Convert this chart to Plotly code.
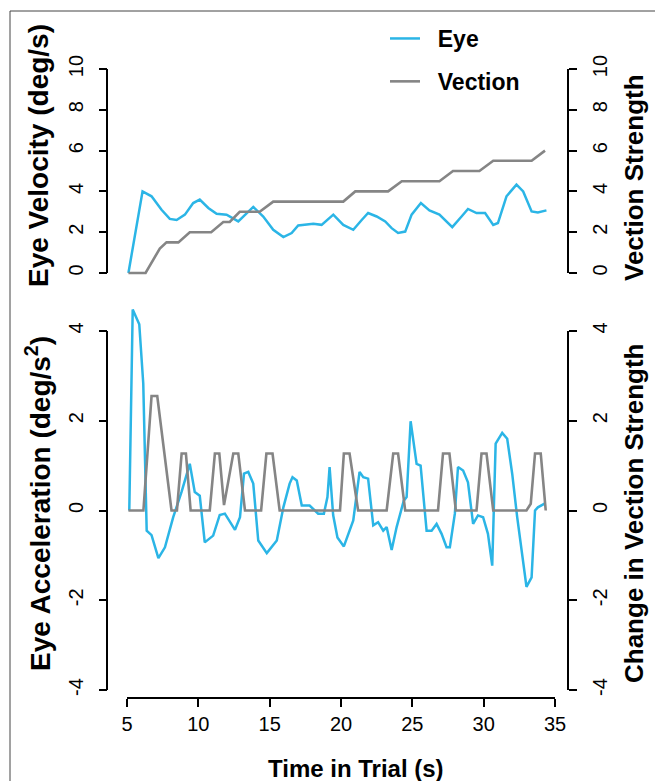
import plotly.graph_objects as go

# ---- data ----
t_vel = [5.1, 6.09, 6.72, 7.42, 8.0, 8.48, 9.06, 9.64, 10.1, 10.7, 11.28, 11.98, 12.8, 13.4, 13.85,
         14.55, 15.25, 15.96, 16.54, 17.0, 17.6, 18.06, 18.64, 19.46, 20.16, 20.86, 21.45, 21.9,
         22.5, 23.1, 23.55, 24.0, 24.5, 24.95, 25.6, 26.2, 26.9, 27.8, 28.45, 28.9, 29.5, 30.1,
         30.67, 31.0, 31.6, 32.3, 32.77, 33.36, 33.8, 34.4]
eye_vel = [0, 4.0, 3.76, 3.1, 2.65, 2.6, 2.86, 3.43, 3.6, 3.19, 2.9, 2.86, 2.53, 2.94, 3.24,
           2.77, 2.12, 1.76, 1.96, 2.33, 2.36, 2.41, 2.36, 2.86, 2.36, 2.12, 2.6, 2.94,
           2.77, 2.53, 2.2, 1.96, 2.03, 2.86, 3.43, 3.07, 2.86, 2.25, 2.77, 3.14, 2.94, 2.94,
           2.36, 2.45, 3.76, 4.33, 4.0, 3.02, 2.97, 3.07]

t_vs = [5.1, 6.3, 7.3, 7.77, 8.6, 9.4, 10.9, 11.75, 12.2, 12.9, 14.3, 15.25, 20.16, 21.0,
        23.3, 24.26, 26.9, 27.85, 29.7, 30.67, 33.36, 34.3]
vection = [0, 0, 1.2, 1.5, 1.5, 2.0, 2.0, 2.5, 2.5, 3.0, 3.0, 3.5, 3.5, 4.0,
           4.0, 4.5, 4.5, 5.0, 5.0, 5.5, 5.5, 6.0]

t_acc = [5.16, 5.4, 5.86, 6.14, 6.38, 6.72, 7.2, 7.66, 8.24, 8.83, 9.4, 9.75, 10.1, 10.45,
         11.04, 11.5, 11.86, 12.57, 12.92, 13.2, 13.5, 13.85, 14.2, 14.8, 15.5, 15.96, 16.4,
         16.6, 16.9, 17.25, 17.8, 18.4, 18.8, 19.05, 19.2, 19.45, 19.75, 20.2, 20.86, 21.3,
         21.56, 21.9, 22.26, 22.6, 22.96, 23.2, 23.55, 23.9, 24.4, 24.6, 24.88, 25.3, 25.58,
         26.0, 26.35, 26.7, 27.05, 27.4, 27.63, 27.98, 28.2, 28.56, 28.9, 29.26, 29.6, 29.96,
         30.3, 30.6, 30.84, 31.3, 31.65, 32.0, 32.35, 33.0, 33.36, 33.6, 33.8, 34.3]
eye_acc = [0, 4.48, 4.15, 2.83, -0.45, -0.55, -1.06, -0.82, -0.15, 0.42, 1.04, 0.41, 0.33, -0.71,
           -0.56, -0.1, -0.07, -0.43, -0.15, 0.82, 0.86, 0.6, -0.67, -0.95, -0.67, 0.07, 0.6,
           0.74, 0.67, 0.11, 0.11, -0.07, -0.07, 0.3, 0.97, -0.1, -0.6, -0.8, -0.22, 0.86,
           0.74, 0.71, -0.33, -0.26, -0.45, -0.37, -0.88, -0.37, 0.22, 0.3, 1.99, 1.04, 1.0,
           -0.45, -0.45, -0.3, -0.52, -0.82, -0.82, -0.07, 0.97, 0.89, 0.63, -0.3, -0.11, -0.15,
           -0.52, -1.23, 1.49, 1.73, 1.6, 0.82, -0.15, -1.7, -1.49, 0.0, 0.07, 0.16]

t_dv = [5.1, 6.15, 6.72, 7.12, 8.12, 8.5, 8.83, 9.13, 9.46, 10.8, 11.16, 11.47, 11.8, 12.45,
        12.8, 13.27, 14.4, 14.77, 15.2, 15.7, 19.93, 20.2, 20.6, 21.2, 23.2, 23.66, 24.0, 24.5,
        26.8, 27.15, 27.6, 28.05, 29.5, 29.85, 30.2, 30.67, 33.0, 33.3, 33.6, 34.0, 34.35]
d_vection = [0, 0, 2.55, 2.55, 0, 0, 1.27, 1.27, 0, 0, 1.27, 1.27, 0.12, 1.27,
             1.27, 0, 0, 1.27, 1.27, 0, 0, 1.27, 1.27, 0, 0, 1.27, 1.27, 0,
             0, 1.27, 1.27, 0, 0, 1.27, 1.27, 0, 0, 0.15, 1.27, 1.27, 0]

x_ticks = [5, 10, 15, 20, 25, 30, 35]
vel_ticks = [0, 2, 4, 6, 8, 10]
acc_ticks = [-4, -2, 0, 2, 4]
acc_ticktext = ["-4", "-2", "0", "2", "4"]

BLUE = "#2BB5E6"
GRAY = "#858585"
W, H = 655, 781
FONT = "Liberation Sans, Arial, sans-serif"


def px_x(p):
    return p / W


def px_y(p):
    return 1 - p / H


# pixel geometry
LEFT_AX, RIGHT_AX = 107.0, 568.0
X5, X35 = 127.0, 555.0
X_AX_Y = 698.0
TOP_0, TOP_10 = 273.0, 69.0
BOT_M4, BOT_4 = 690.0, 331.0

vel_scale = (TOP_0 - TOP_10) / 10.0
TOP_LO, TOP_HI = TOP_0 + 4, TOP_10 - 4
vel_range = [-(TOP_LO - TOP_0) / vel_scale, 10 + (TOP_10 - TOP_HI) / vel_scale]

acc_scale = (BOT_M4 - BOT_4) / 8.0
BOT_LO, BOT_HI = BOT_M4 + 4, 296.0
acc_range = [-4 - (BOT_LO - BOT_M4) / acc_scale, 4 + (BOT_4 - BOT_HI) / acc_scale]

fig = go.Figure()

# gray first so blue sits on top
fig.add_trace(go.Scatter(x=t_vs, y=vection, mode="lines", name="\u00a0\u00a0Vection",
                         xaxis="x", yaxis="y2",
                         line=dict(color=GRAY, width=2.6), legendgroup="v", legendrank=2))
fig.add_trace(go.Scatter(x=t_dv, y=d_vection, mode="lines", name="Vection", xaxis="x", yaxis="y4",
                         line=dict(color=GRAY, width=2.6), showlegend=False))
fig.add_trace(go.Scatter(x=t_vel, y=eye_vel, mode="lines", name="\u00a0\u00a0Eye",
                         xaxis="x", yaxis="y",
                         line=dict(color=BLUE, width=2.5), legendgroup="e", legendrank=1))
fig.add_trace(go.Scatter(x=t_acc, y=eye_acc, mode="lines", name="Eye", xaxis="x", yaxis="y3",
                         line=dict(color=BLUE, width=2.5), showlegend=False))

axis_common = dict(showgrid=False, zeroline=False, automargin=False,
                   ticks="outside", ticklen=8, tickwidth=2, tickcolor="black",
                   tickfont=dict(family=FONT, size=20, color="black"))

fig.update_layout(
    template="none",
    width=W, height=H,
    margin=dict(l=0, r=0, t=0, b=0, pad=0, autoexpand=False),
    paper_bgcolor="white", plot_bgcolor="rgba(0,0,0,0)",
    font=dict(family=FONT, color="black"),
    xaxis=dict(domain=[px_x(X5), px_x(X35)], range=[5, 35], tickvals=x_ticks,
               showline=True, linecolor="black", linewidth=2,
               anchor="free", position=px_y(X_AX_Y), **axis_common),
    yaxis=dict(domain=[px_y(TOP_LO), px_y(TOP_HI)], range=vel_range, tickvals=vel_ticks,
               tickangle=-90, showline=False,
               anchor="free", position=px_x(LEFT_AX), side="left", ticklabelstandoff=8,
               **axis_common),
    yaxis2=dict(range=vel_range, tickvals=vel_ticks, tickangle=-90, overlaying="y", showline=False,
                anchor="free", position=px_x(RIGHT_AX), side="right", ticklabelstandoff=6,
                **axis_common),
    yaxis3=dict(domain=[px_y(BOT_LO), px_y(BOT_HI)], range=acc_range, tickvals=acc_ticks,
                ticktext=acc_ticktext, tickangle=-90, showline=False,
                anchor="free", position=px_x(LEFT_AX), side="left", ticklabelstandoff=8,
                **axis_common),
    yaxis4=dict(range=acc_range, tickvals=acc_ticks, ticktext=acc_ticktext, tickangle=-90,
                overlaying="y3", showline=False, anchor="free", position=px_x(RIGHT_AX),
                side="right", ticklabelstandoff=6, **axis_common),
    legend=dict(x=px_x(385), y=px_y(17), xanchor="left", yanchor="top",
                font=dict(family=FONT, size=23, color="black", weight="bold"),
                bgcolor="rgba(0,0,0,0)", borderwidth=0, tracegroupgap=10, itemwidth=30),
    showlegend=True,
)

# y-axis lines spanning only the tick range (R-style axes)
for yref, lo, hi in [("y", 0, 10), ("y3", -4, 4)]:
    for xpos in (LEFT_AX, RIGHT_AX):
        fig.add_shape(type="line", xref="paper", yref=yref, x0=px_x(xpos), x1=px_x(xpos),
                      y0=lo, y1=hi, line=dict(color="black", width=2), layer="above")

annos = [
    dict(text="<b>Eye Velocity (deg/s)</b>", x=px_x(38), y=px_y(156), textangle=-90, size=28),
    dict(text="<b>Eye Acceleration (deg/s<sup>2</sup>)</b>", x=px_x(38), y=px_y(504),
         textangle=-90, size=28),
    dict(text="<b>Vection Strength</b>", x=px_x(634), y=px_y(178), textangle=-90, size=26),
    dict(text="<b>Change in Vection Strength</b>", x=px_x(634), y=px_y(514), textangle=-90,
         size=26),
    dict(text="<b>Time in Trial (s)</b>", x=px_x(356), y=px_y(768), textangle=0, size=24),
]
for a in annos:
    size = a.pop("size")
    fig.add_annotation(xref="paper", yref="paper", showarrow=False,
                       font=dict(family=FONT, size=size, color="black"),
                       xanchor="center", yanchor="middle", **a)

# thin frame (top and left edges)
fig.add_shape(type="line", xref="paper", yref="paper", x0=px_x(10), x1=1, y0=px_y(11), y1=px_y(11),
              line=dict(color="#444444", width=1))
fig.add_shape(type="line", xref="paper", yref="paper", x0=px_x(10), x1=px_x(10), y0=0, y1=px_y(11),
              line=dict(color="#444444", width=1))

fig.write_html(
    "out.html",
    config={"displayModeBar": False},
    post_script="document.body.style.margin='0';document.body.style.padding='0';"
                "document.body.style.overflow='hidden';",
)
